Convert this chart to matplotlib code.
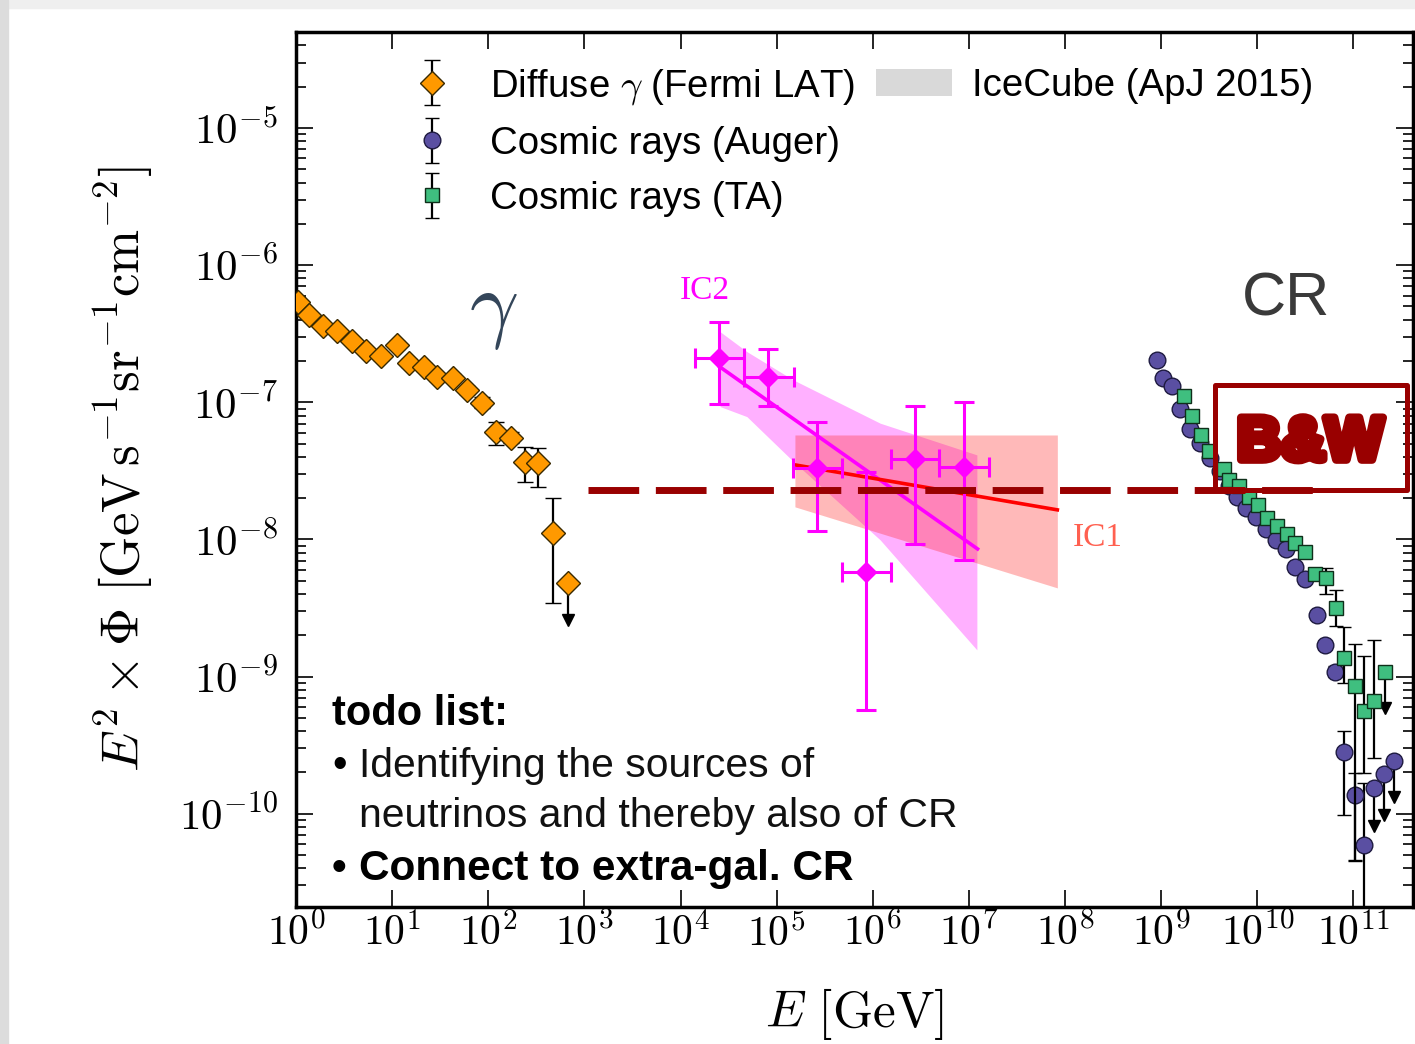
import numpy as np
import matplotlib
matplotlib.use('Agg')
import matplotlib.pyplot as plt
from matplotlib.patches import Rectangle, Patch
from matplotlib.lines import Line2D
from matplotlib.container import ErrorbarContainer
from matplotlib.legend_handler import HandlerErrorbar
from matplotlib.ticker import LogLocator, NullLocator, NullFormatter, FixedLocator, FuncFormatter
import matplotlib.patheffects as pe

plt.rcParams['mathtext.fontset'] = 'cm'
plt.rcParams['font.family'] = ['Liberation Sans', 'DejaVu Sans']

# all values as log10: energy in GeV, flux E^2*Phi in GeV s^-1 sr^-1 cm^-2

# Fermi LAT diffuse gamma
fermi_logE = [0.02, 0.135, 0.281, 0.427, 0.583, 0.728, 0.884, 1.051, 1.176, 1.332,
              1.467, 1.634, 1.779, 1.935, 2.081, 2.237, 2.383, 2.518, 2.674]
fermi_logF = [-6.266, -6.363, -6.443, -6.480, -6.552, -6.625, -6.662, -6.582, -6.713, -6.742,
              -6.815, -6.822, -6.910, -7.004, -7.216, -7.259, -7.434, -7.442, -7.952]
fermi_up = [0.02, 0.02, 0.02, 0.02, 0.02, 0.02, 0.03, 0.03, 0.03, 0.03,
            0.03, 0.03, 0.03, 0.04, 0.073, 0.04, 0.109, 0.110, 0.255]
fermi_dn = [0.02, 0.02, 0.02, 0.02, 0.02, 0.02, 0.03, 0.03, 0.03, 0.03,
            0.03, 0.03, 0.03, 0.04, 0.094, 0.04, 0.146, 0.175, 0.510]
fermi_ul_logE = [2.830]
fermi_ul_logF = [-8.316]
fermi_ul_end = [-8.59]

# IceCube IC2 (points, fit and band)
ic2_logE = [4.40, 4.91, 5.42, 5.93, 6.44, 6.95]
ic2_logE_lo = [4.15, 4.66, 5.17, 5.68, 6.19, 6.69]
ic2_logE_hi = [4.66, 5.18, 5.68, 6.19, 6.69, 7.21]
ic2_logF = [-6.676, -6.815, -7.478, -8.236, -7.41, -7.47]
ic2_logF_hi = [-6.414, -6.61, -7.14, -7.51, -7.03, -7.00]
ic2_logF_lo = [-7.01, -7.03, -7.94, -9.24, -8.03, -8.15]
ic2_fit_logE = [4.41, 7.09]
ic2_fit_logF = [-6.742, -8.069]
ic2_band_logE = [4.412, 4.690, 5.175, 6.077, 7.083]
ic2_band_hi = [-6.485, -6.630, -6.837, -7.152, -7.383]
ic2_band_lo = [-7.031, -7.104, -7.432, -8.003, -8.805]

# IceCube IC1 (fit and band)
ic1_fit_logE = [5.19, 7.92]
ic1_fit_logF = [-7.456, -7.784]
ic1_band_logE = [5.19, 7.92]
ic1_band_hi = [-7.238, -7.238]
ic1_band_lo = [-7.762, -8.353]

# Auger cosmic rays
auger_logE = [8.956, 9.019, 9.112, 9.199, 9.296, 9.407, 9.511, 9.615, 9.701, 9.789,
              9.886, 9.990, 10.094, 10.198, 10.302, 10.396, 10.500, 10.621, 10.708, 10.812,
              10.905, 11.012, 11.106]
auger_logF = [-6.688, -6.819, -6.883, -7.052, -7.191, -7.300, -7.405, -7.503, -7.612, -7.690,
              -7.769, -7.834, -7.925, -8.003, -8.068, -8.198, -8.289, -8.550, -8.771, -8.966,
              -9.552, -9.865, -10.229]
auger_up = [0.0, 0.0, 0.0, 0.0, 0.0, 0.0, 0.0, 0.0, 0.0, 0.0,
            0.0, 0.0, 0.0, 0.0, 0.0, 0.0, 0.0, 0.02, 0.03, 0.04,
            0.157, 0.16, 0.45]
auger_dn = [0.0, 0.0, 0.0, 0.0, 0.0, 0.0, 0.0, 0.0, 0.0, 0.0,
            0.0, 0.0, 0.0, 0.0, 0.0, 0.0, 0.0, 0.02, 0.03, 0.04,
            0.455, 0.48, 1.5]
auger_ul_logE = [11.210, 11.322, 11.418]
auger_ul_logF = [-9.812, -9.708, -9.617]
auger_ul_end = [-10.09, -10.01, -9.88]

# Telescope Array cosmic rays
ta_logE = [9.233, 9.321, 9.417, 9.493, 9.649, 9.701, 9.805, 9.909, 10.007, 10.101,
           10.205, 10.309, 10.395, 10.500, 10.604, 10.718, 10.822, 10.898, 11.020, 11.106,
           11.210]
ta_logF = [-6.956, -7.097, -7.235, -7.357, -7.483, -7.566, -7.612, -7.690, -7.748, -7.847,
           -7.899, -7.963, -8.029, -8.094, -8.250, -8.284, -8.503, -8.867, -9.070, -9.252,
           -9.179]
ta_up = [0.0, 0.0, 0.0, 0.0, 0.0, 0.0, 0.0, 0.0, 0.0, 0.0,
         0.0, 0.0, 0.0, 0.0, 0.03, 0.073, 0.136, 0.226, 0.31, 0.40, 0.447]
ta_dn = [0.0, 0.0, 0.0, 0.0, 0.0, 0.0, 0.0, 0.0, 0.0, 0.0,
         0.0, 0.0, 0.0, 0.0, 0.03, 0.110, 0.125, 0.18, 1.27, 0.45, 0.412]
ta_ul_logE = [11.332]
ta_ul_logF = [-8.965]
ta_ul_end = [-9.23]

# horizontal reference level and B&W box
level_logE = [3.04, 10.58]
level_logF = -7.638
box_logE = [9.563, 11.561]
box_logF = [-7.638, -6.873]

xtick_exp = list(range(0, 12))
ytick_exp = list(range(-10, -4))


def p10(v):
    return np.power(10.0, np.asarray(v, dtype=float))


def yerr(logf, up, dn):
    f = p10(logf)
    return [f - p10(np.asarray(logf) - np.asarray(dn)), p10(np.asarray(logf) + np.asarray(up)) - f]


def draw_ul(ax, logE, logF, logEnd):
    E = p10(logE)
    ax.vlines(E, p10(logEnd), p10(logF), color='black', lw=1.6, zorder=3)
    ax.plot(E, p10(logEnd), linestyle='none', marker='v', ms=9, color='black', zorder=3)


fig = plt.figure(figsize=(14.15, 10.44), dpi=100)
fig.add_artist(Rectangle((0, 1 - 8 / 1044), 1, 8 / 1044, transform=fig.transFigure,
                         color='#efefef', zorder=-10))
fig.add_artist(Rectangle((0, 0), 8 / 1415, 1, transform=fig.transFigure,
                         color='#dcdcdc', zorder=-10))
ax = fig.add_axes([0.2092, 0.1312, 0.7894, 0.8381])
ax.set_xscale('log')
ax.set_yscale('log')

# IceCube bands
ax.fill_between(p10(ic2_band_logE), p10(ic2_band_lo), p10(ic2_band_hi),
                color='#ff00ff', alpha=0.31, lw=0, zorder=1)
ax.fill_between(p10(ic1_band_logE), p10(ic1_band_lo), p10(ic1_band_hi),
                color='#ff2020', alpha=0.31, lw=0, zorder=1.1)
ax.plot(p10(ic2_fit_logE), p10(ic2_fit_logF), color='#ff00ff', lw=2.6, zorder=2)
ax.plot(p10(ic1_fit_logE), p10(ic1_fit_logF), color='#ff0000', lw=2.6, zorder=2.1)

E = p10(ic2_logE)
ax.errorbar(E, p10(ic2_logF),
            xerr=[E - p10(ic2_logE_lo), p10(ic2_logE_hi) - E],
            yerr=[p10(ic2_logF) - p10(ic2_logF_lo), p10(ic2_logF_hi) - p10(ic2_logF)],
            fmt='D', color='#ff00ff', ms=10, mec='#ff00ff', elinewidth=2.2,
            capsize=7, capthick=2.2, zorder=3)

# Fermi
h_fermi = ax.errorbar(p10(fermi_logE), p10(fermi_logF), yerr=yerr(fermi_logF, fermi_up, fermi_dn),
                      fmt='D', ms=12.5, mfc='#ff9900', mec='#3a2a00', mew=1.0,
                      ecolor='black', elinewidth=1.6, capsize=6, capthick=1.6, zorder=3)
ax.plot(p10(fermi_ul_logE), p10(fermi_ul_logF), 'D', ms=12.5, mfc='#ff9900',
        mec='#3a2a00', mew=1.0, zorder=4)
draw_ul(ax, fermi_ul_logE, fermi_ul_logF, fermi_ul_end)

# cosmic rays
h_auger = ax.errorbar(p10(auger_logE), p10(auger_logF), yerr=yerr(auger_logF, auger_up, auger_dn),
                      fmt='o', ms=12, mfc='#5a4fa2', mec='#1e1a40', mew=1.0,
                      ecolor='black', elinewidth=1.6, capsize=5, capthick=1.6, zorder=3)
draw_ul(ax, auger_ul_logE, auger_ul_logF, auger_ul_end)
ax.plot(p10(auger_ul_logE), p10(auger_ul_logF), 'o', ms=12, mfc='#5a4fa2',
        mec='#1e1a40', mew=1.0, zorder=4)

h_ta = ax.errorbar(p10(ta_logE), p10(ta_logF), yerr=yerr(ta_logF, ta_up, ta_dn),
                   fmt='s', ms=10.5, mfc='#3fbf7f', mec='#0f2f1a', mew=1.0,
                   ecolor='black', elinewidth=1.6, capsize=5, capthick=1.6, zorder=3.2)
draw_ul(ax, ta_ul_logE, ta_ul_logF, ta_ul_end)
ax.plot(p10(ta_ul_logE), p10(ta_ul_logF), 's', ms=10.5, mfc='#3fbf7f',
        mec='#0f2f1a', mew=1.0, zorder=4.2)

# dashed level line and B&W box
ax.plot(p10(level_logE), [10 ** level_logF] * 2, color='#990000', lw=5,
        dashes=(7.3, 2.4), solid_capstyle='butt', dash_capstyle='butt', zorder=6)
bx = p10(box_logE)
by = p10(box_logF)
ax.add_patch(Rectangle((bx[0], by[0]), bx[1] - bx[0], by[1] - by[0], fill=False,
                       edgecolor='#990000', lw=3.6, joinstyle='round', zorder=6, clip_on=False))
ax.text(0.9078, 0.529, 'B&W', transform=ax.transAxes, ha='center', va='center',
        fontsize=44, fontweight='bold', color='#990000', zorder=7,
        path_effects=[pe.withStroke(linewidth=6, foreground='#990000')])

# axes styling
ax.set_xlim(10 ** 0, 10 ** 11.62)
ax.set_ylim(10 ** -10.68, 10 ** -4.30)
pow_fmt = FuncFormatter(lambda v, pos: r'$10^{%d}$' % int(round(np.log10(v))))
ax.xaxis.set_major_locator(FixedLocator(p10(xtick_exp)))
ax.xaxis.set_minor_locator(NullLocator())
ax.xaxis.set_major_formatter(pow_fmt)
ax.yaxis.set_major_locator(FixedLocator(p10(ytick_exp)))
ax.yaxis.set_minor_locator(LogLocator(base=10, subs=np.arange(2, 10), numticks=20))
ax.yaxis.set_major_formatter(pow_fmt)
ax.yaxis.set_minor_formatter(NullFormatter())
ax.tick_params(which='both', direction='in', top=True, right=True, width=1.2)
ax.tick_params(which='major', length=12)
ax.tick_params(which='minor', length=7)
ax.tick_params(axis='x', labelsize=30, pad=5)
ax.tick_params(axis='y', labelsize=31, pad=13)
for s in ax.spines.values():
    s.set_linewidth(2.5)

ax.set_xlabel(r'$E\ [\mathrm{GeV}]$', fontsize=37)
ax.set_ylabel(r'$E^2\times\Phi\ [\mathrm{GeV\,s^{-1}sr^{-1}cm^{-2}}]$', fontsize=38)
ax.xaxis.set_label_coords(0.5, -0.09)
ax.yaxis.set_label_coords(-0.126, 0.5)

# legend
ice_patch = Patch(facecolor='#d9d9d9', edgecolor='none')
blank = Line2D([], [], linestyle='none')
ax.legend([h_fermi, h_auger, h_ta, ice_patch, blank, blank],
          [r'Diffuse $\gamma$ (Fermi LAT)', 'Cosmic rays (Auger)', 'Cosmic rays (TA)',
           'IceCube (ApJ 2015)', '', ''],
          ncol=2, loc='upper left', bbox_to_anchor=(0.0877, 0.9606), frameon=False,
          fontsize=27.6, handlelength=2.0, handletextpad=0.5, columnspacing=0.55,
          labelspacing=0.5, borderpad=0, borderaxespad=0,
          handler_map={ErrorbarContainer: HandlerErrorbar(xerr_size=0.5, yerr_size=0.58)})

# annotations
ax.text(0.1764, 0.680, r'$\gamma$', transform=ax.transAxes, ha='center', va='center',
        fontsize=62, color='#34465a')
ax.text(0.8863, 0.6937, 'CR', transform=ax.transAxes, ha='center', va='center',
        fontsize=44, color='#3a3a3a')
ax.text(0.3662, 0.704, 'IC2', transform=ax.transAxes, ha='center', va='center',
        fontsize=24, color='#ff00ff', family='Liberation Serif')
ax.text(0.718, 0.4217, 'IC1', transform=ax.transAxes, ha='center', va='center',
        fontsize=24, color='#ff6050', family='Liberation Serif')

ax.text(0.0322, 0.208, 'todo list:', transform=ax.transAxes, ha='left', va='baseline',
        fontsize=30, fontweight='bold', color='black')
ax.text(0.0322, 0.1486, '\u2022', transform=ax.transAxes, ha='left', va='baseline',
        fontsize=30, color='black')
ax.text(0.0564, 0.1486, 'Identifying the sources of', transform=ax.transAxes,
        ha='left', va='baseline', fontsize=29.4, color='#111111')
ax.text(0.0564, 0.0914, 'neutrinos and thereby also of CR', transform=ax.transAxes,
        ha='left', va='baseline', fontsize=29.4, color='#111111')
ax.text(0.0322, 0.0309, '\u2022', transform=ax.transAxes, ha='left', va='baseline',
        fontsize=30, fontweight='bold', color='black')
ax.text(0.0564, 0.0309, 'Connect to extra-gal. CR', transform=ax.transAxes,
        ha='left', va='baseline', fontsize=30.5, fontweight='bold', color='black')

fig.savefig('out.png', dpi=100, facecolor='white')
